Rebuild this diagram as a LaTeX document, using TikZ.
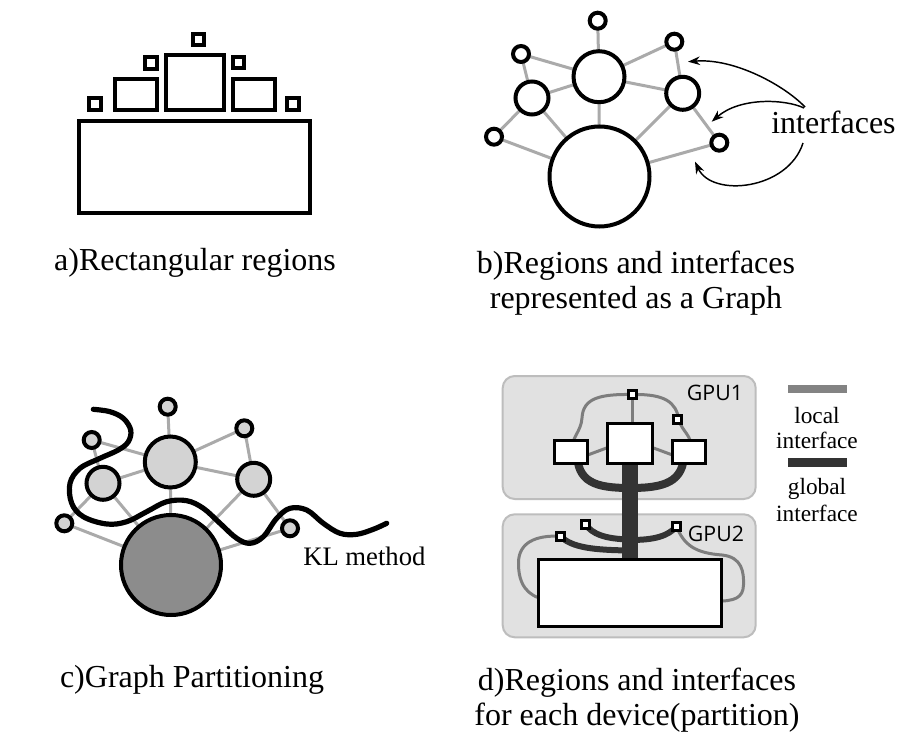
\documentclass[tikz,border=0pt]{standalone}
\usepackage{fontspec}
\setmainfont{Liberation Serif}
\newfontfamily\gpufont{Open Sans}
\usetikzlibrary{arrows.meta,calc}
\definecolor{edgegray}{HTML}{AAAAAA}
\definecolor{localgray}{HTML}{7D7D7D}
\definecolor{darkglob}{HTML}{333333}
\definecolor{gpufill}{HTML}{E1E1E1}
\definecolor{gpuline}{HTML}{BDBDBD}
\definecolor{lightnode}{HTML}{D3D3D3}
\definecolor{darknode}{HTML}{8C8C8C}
\pgfdeclarelayer{paper}
\pgfdeclarelayer{back}
\pgfdeclarelayer{edges}
\pgfsetlayers{paper,back,edges,main}
\begin{document}
\begin{tikzpicture}[x=0.75pt,y=-0.75pt,
  rega/.style={draw=black, line width=3pt},
  circ/.style={circle, draw=black, line width=3pt, fill=white, inner sep=0pt, outer sep=0pt, minimum size=#1*0.75pt},
  gedge/.style={draw=edgegray, line width=2.25pt},
  arr/.style={draw=black, line width=1.1pt, -{Stealth[length=9pt,width=6.5pt]}},
  kl/.style={draw=black, line width=3.9pt, line cap=round},
  regd/.style={rectangle, draw=black, line width=2.3pt, fill=white, inner sep=0pt, outer sep=0pt},
  sq/.style={rectangle, draw=black, line width=2.3pt, fill=white, inner sep=0pt, outer sep=0pt, minimum size=8*0.75pt},
  gpubox/.style={rectangle, rounded corners=9pt, draw=gpuline, fill=gpufill, line width=1.5pt, inner sep=0pt},
  gpul/.style={font=\gpufont\fontsize{16}{18}\selectfont, inner sep=0pt},
  globl/.style={draw=darkglob},
  locl/.style={draw=localgray, line width=2.25pt},
  captxt/.style={font=\fontsize{24}{26.25}\selectfont, align=center, inner sep=0pt},
]
\useasboundingbox (0,0) rectangle (917,752);
\begin{pgfonlayer}{paper}
\fill[white] (0,0) rectangle (917,752);
\end{pgfonlayer}

% ---------- a) rectangular regions ----------
\draw[rega] (79.3,121) rectangle (310,213);
\draw[rega] (166.3,55.3) rectangle (223.7,109.7);
\draw[rega] (114.7,78.7) rectangle (157,109.7);
\draw[rega] (233,78.7) rectangle (275.3,109.7);
\draw[rega] (192.7,33.7) rectangle (204,44.7);
\draw[rega] (144.7,56.7) rectangle (156.7,69);
\draw[rega] (232.7,56.7) rectangle (244,68);
\draw[rega] (89.3,98) rectangle (101.3,109.7);
\draw[rega] (287.3,98) rectangle (298.7,109.7);
\node[captxt, anchor=base] (capa) at (195,271) {a)Rectangular regions};

% ---------- b) graph ----------
\node[circ=100] (bB) at (599.5,176.5) {};
\node[circ=51] (bT) at (599,76.7) {};
\node[circ=33] (bL) at (532,98) {};
\node[circ=33] (bR) at (682.7,93.3) {};
\node[circ=16] (b1) at (597.7,20.7) {};
\node[circ=16] (b2) at (521,54) {};
\node[circ=16] (b3) at (674.3,41.7) {};
\node[circ=16] (b4) at (494,136.7) {};
\node[circ=16] (b5) at (719.3,142.7) {};
\begin{pgfonlayer}{edges}
\foreach \p/\q in {b1/bT,b2/bL,b2/bT,bL/bT,bT/b3,b3/bR,bT/bR,b4/bL,b4/bB,bL/bB,bT/bB,bR/bB,bR/b5,b5/bB}
  \draw[gedge] (\p.center) -- (\q.center);
\end{pgfonlayer}
\node[font=\fontsize{24}{26}\selectfont, inner sep=0pt, anchor=base west] (intf) at (771,134) {interfaces};
\coordinate (t1) at (688,61.7);
\coordinate (t2) at (711.7,121.7);
\coordinate (t3) at (695,161.7);
\draw[arr] ($(intf.base west)+(34,-27)$) .. controls (785,86) and (735,58) .. (t1);
\draw[arr] ($(intf.base west)+(33,-26)$) .. controls (785,99) and (740,97) .. (t2);
\draw[arr] ($(intf.base west)+(32,9)$) .. controls (788,190) and (712,198) .. (t3);
\node[captxt, anchor=base] (capb) at (636,308) {b)Regions and interfaces\\represented as a Graph};

% ---------- c) graph partitioning ----------
\node[circ=100, fill=darknode] (cB) at (171,565) {};
\node[circ=51, fill=lightnode] (cT) at (170.3,462) {};
\node[circ=33, fill=lightnode] (cL) at (103,483.3) {};
\node[circ=33, fill=lightnode] (cR) at (253.7,479.3) {};
\node[circ=16, fill=lightnode] (c1) at (167.7,406.7) {};
\node[circ=16, fill=lightnode] (c2) at (91.7,440) {};
\node[circ=16, fill=lightnode] (c3) at (244.3,428.3) {};
\node[circ=16, fill=lightnode] (c4) at (64.3,523.3) {};
\node[circ=16, fill=lightnode] (c5) at (290,528.3) {};
\begin{pgfonlayer}{edges}
\foreach \p/\q in {c1/cT,c2/cL,c2/cT,cL/cT,cT/c3,c3/cR,cT/cR,c4/cL,c4/cB,cL/cB,cT/cB,cR/cB,cR/c5,c5/cB}
  \draw[gedge] (\p.center) -- (\q.center);
\end{pgfonlayer}
\draw[kl] plot[smooth, tension=0.6] coordinates {(93.3,409.3) (110,411.7) (123.3,418.3) (130.7,430) (128.3,441.7) (118.3,450) (100,458.3) (80,468.3) (70,483.3) (71.7,503.3) (83.3,516.7) (106.7,524) (126.7,521.7) (146.7,511.7) (166.7,501.7) (186.7,500.7) (203.3,508.3) (220,523.3) (236.7,538.3) (250,543.3) (263.3,536.7) (276.7,518.3) (290,508.3) (306.7,510) (323.3,523.3) (340,533.3) (356.7,534.3) (373.3,529.3) (386.7,523.3)};
\node[font=\fontsize{20}{24}\selectfont, inner sep=0pt, anchor=base west] (klm) at (303,565) {KL method};
\node[captxt, anchor=base] (capc) at (192,687) {c)Graph Partitioning};

% ---------- d) per device ----------
\begin{pgfonlayer}{back}
\node[gpubox, minimum width=253*0.75pt, minimum height=123*0.75pt] (g1) at (629.2,437.5) {};
\node[gpubox, minimum width=253*0.75pt, minimum height=123*0.75pt] (g2) at (629.2,575.8) {};
\end{pgfonlayer}
\node[gpul] (g1l) at (715,392.5) {GPU1};
\node[gpul] (g2l) at (716,534) {GPU2};
\node[regd, minimum width=45.6*0.75pt, minimum height=40.3*0.75pt] (csq) at (630,443.3) {};
\node[regd, minimum width=32.4*0.75pt, minimum height=22.7*0.75pt] (lr) at (571,452.2) {};
\node[regd, minimum width=33.3*0.75pt, minimum height=22.7*0.75pt] (rr) at (689.2,452.2) {};
\node[regd, minimum width=183.6*0.75pt, minimum height=67*0.75pt] (bigr) at (630,593.3) {};
\node[sq] (s1) at (632.8,394.5) {};
\node[sq] (s2) at (677.2,419.2) {};
\node[sq] (s3) at (560.5,536.2) {};
\node[sq] (s4) at (585.5,524.2) {};
\node[sq] (s5) at (676.5,526.5) {};
\begin{pgfonlayer}{edges}
% local interfaces
\draw[locl] (s1.center) .. controls (600,394) and (583,398) .. (582,418) .. controls (581,432) and (572,436) .. (lr.center);
\draw[locl] (s1.center) .. controls (665,394) and (676,402) .. (679,420) .. controls (682,432) and (692,434) .. ($(rr.center)+(3,0)$);
\draw[locl] (s1.center) -- (s1.center |- csq.center);
\draw[locl] ($(lr.center)+(0,9)$) -- ($(csq.center)+(0,-4)$);
\draw[locl] ($(rr.center)+(0,9)$) -- ($(csq.center)+(0,-4)$);
\draw[locl] (s3.center) .. controls (535,535) and (519,543) .. (518.5,562) .. controls (518,585) and (528,596) .. ($(bigr.west)+(6,6)$);
\draw[locl] (s5.center) .. controls (684,545) and (695,553) .. (722,555) .. controls (742,557) and (744,572) .. (743.5,585) .. controls (743,598) and (735,601) .. ($(bigr.east)+(-6,8)$);
% global interfaces
\draw[globl, line width=11.8pt] (csq.center) -- (csq.center |- bigr.center);
\draw[globl, line width=6pt] ($(lr.center)+(6,0)$) .. controls (577,482) and (595,488) .. (630,488);
\draw[globl, line width=6pt] ($(rr.center)+(-5,0)$) .. controls (684,482) and (665,488) .. (630,488);
\draw[globl, line width=4.5pt] (s4.center) .. controls (592,534) and (605,539) .. (630,539.5);
\draw[globl, line width=4.5pt] (s5.center) .. controls (668,536) and (655,540) .. (630,540);
\draw[globl, line width=4.5pt] (s3.center) .. controls (572,548) and (595,550) .. (630,550.5);
\end{pgfonlayer}
% legend
\node[fill=localgray!95!white, inner sep=0pt, minimum width=59*0.75pt, minimum height=8.3*0.75pt] (lbar) at (817.2,389) {};
\node[fill=darkglob, inner sep=0pt, minimum width=58.4*0.75pt, minimum height=8.4*0.75pt] (gbar) at (817.5,462.5) {};
\node[font=\fontsize{17.5}{18.75}\selectfont, align=center, inner sep=0pt, anchor=base] (ltxt) at (817,448) {local\\interface};
\node[font=\fontsize{17.5}{20}\selectfont, align=center, inner sep=0pt, anchor=base] (gtxt) at (817,521.5) {global\\interface};
\node[captxt, anchor=base] (capd) at (637,725) {d)Regions and interfaces\\for each device(partition)};
\end{tikzpicture}
\end{document}
